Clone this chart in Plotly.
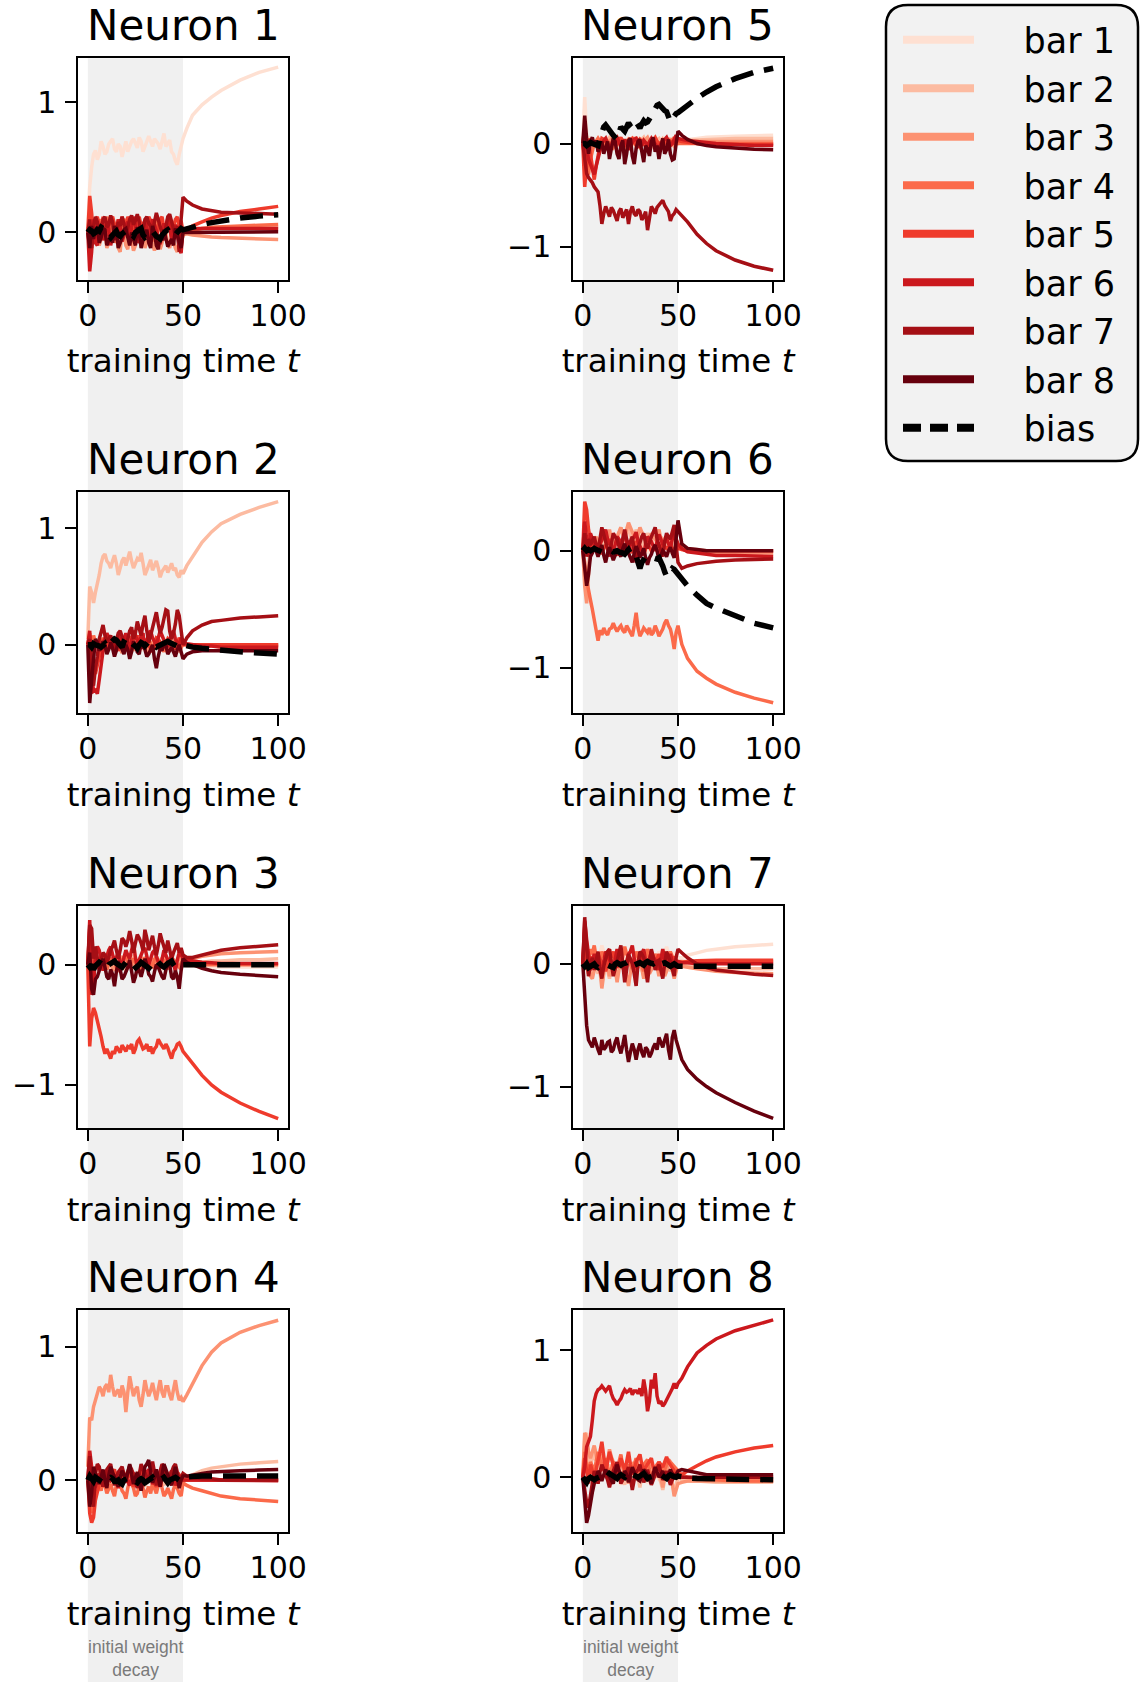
import plotly.graph_objects as go

# ---------------- data ----------------
T = [0, 1, 2, 3, 4, 5, 6, 7, 8, 9, 10, 11, 12, 13, 14, 15, 16, 17, 18, 19, 20, 21, 22, 23, 24, 25,
     26, 27, 28, 29, 30, 31, 32, 33, 34, 35, 36, 37, 38, 39, 40, 41, 42, 43, 44, 45, 46, 47, 48, 49, 50,
     52, 55, 60, 65, 70, 80, 90, 100]

SERIES_NAMES = ["bar 1", "bar 2", "bar 3", "bar 4", "bar 5", "bar 6", "bar 7", "bar 8", "bias"]
X_TICKS = [0, 50, 100]

# Neuron 1
n1_b1 = [0.05,0.35,0.5,0.6,0.63, 0.56,0.6, 0.7,0.66, 0.6,0.62, 0.68,0.7, 0.72,0.64, 0.62,0.68, 0.66,0.58, 0.64,0.7, 0.62,0.66, 0.7,0.72, 0.68,0.65, 0.73,0.7, 0.62,0.67, 0.7,0.74, 0.69,0.66, 0.72,0.7, 0.68,0.64, 0.7,0.76, 0.66,0.68, 0.71,0.62, 0.6,0.55, 0.52,0.6, 0.66,0.72,
         0.8,0.9,0.98,1.04,1.09,1.17,1.23,1.27]
n1_b2 = [0,0.08,-0.05,0.05,0.02, 0.06,-0.06, -0.03,0.04, 0.02,0.08, 0.05,-0.04, -0.02,0.06, 0.07,-0.02, -0.05,0.07, 0.04,0.0, 0.03,-0.08, -0.02,0.05, 0.07,0.02, 0.04,-0.05, -0.02,0.08, 0.06,0.03, 0.01,-0.06, -0.03,0.04, 0.0,0.07, 0.05,-0.03, -0.05,0.05, 0.03,-0.04, 0.0,0.06, 0.04,0.0, -0.03,0.02,
         0.02,0.02,0.03,0.03,0.03,0.03,0.04,0.04]
n1_b3 = [0,-0.1,0.05,-0.08,0.04, -0.04,-0.1, -0.05,0.02, 0.0,-0.12, -0.08,0.05, 0.0,-0.06, -0.02,-0.12, -0.15,0.03, -0.02,-0.1, -0.13,-0.02, -0.06,-0.14, -0.1,0.04, -0.04,-0.08, 0.0,-0.12, -0.07,0.02, -0.04,-0.1, -0.14,-0.05, -0.02,-0.13, -0.08,0.03, 0.0,-0.09, -0.12,-0.04, -0.07,-0.12, -0.15,-0.06, -0.1,-0.02,
         -0.01,-0.02,-0.03,-0.035,-0.04,-0.045,-0.05,-0.055]
n1_b4 = [0,0.15,-0.1,0.08,-0.05, 0.03,0.1, 0.06,-0.04, 0.02,0.12, 0.07,0.02, 0.04,-0.08, -0.03,0.1, 0.05,-0.02, 0.1,0.08, 0.02,-0.1, -0.04,0.06, 0.0,0.1, 0.07,-0.05, -0.02,0.03, 0.06,0.11, 0.04,-0.07, -0.02,0.05, 0.1,0.09, 0.04,-0.03, 0.02,0.08, 0.1,-0.06, -0.02,0.04, 0.0,0.09, 0.05,0.0,
         0.01,0.02,0.03,0.04,0.045,0.05,0.055,0.06]
n1_b5 = [0,0.28,0.15,-0.05,0.1, 0.12,0.05, 0.0,0.12, 0.08,-0.03, 0.04,0.1, 0.12,0.06, 0.02,-0.05, 0.06,0.12, 0.08,0.02, 0.12,0.09, 0.04,-0.04, 0.03,0.1, 0.12,0.05, 0.08,-0.02, 0.04,0.12, 0.09,0.04, 0.0,-0.06, 0.05,0.1, 0.12,0.03, 0.0,0.08, 0.11,-0.03, 0.04,0.1, 0.12,0.05, 0.09,0.0,
         0.02,0.05,0.08,0.11,0.13,0.16,0.18,0.2]
n1_b6 = [0,-0.3,-0.15,0.1,-0.08, -0.1,0.05, 0.02,-0.06, -0.02,0.08, 0.03,-0.1, -0.04,0.04, 0.0,0.1, 0.04,-0.07, -0.02,0.06, 0.08,-0.04, 0.04,0.12, 0.06,-0.08, -0.05,0.02, -0.03,0.09, 0.05,-0.06, 0.02,0.1, 0.06,0.0, -0.04,-0.09, -0.02,0.07, 0.03,0.11, 0.06,-0.05, -0.02,0.06, 0.0,-0.12, -0.16,0.02,
         0.02,0.03,0.03,0.03,0.03,0.03,0.03,0.03]
n1_b7 = [0,0.1,-0.12,0.05,0.12, 0.08,-0.05, 0.04,0.1, 0.12,0.04, 0.06,0.13, 0.08,-0.06, 0.0,0.08, 0.05,0.12, 0.06,-0.02, 0.04,0.1, 0.13,0.06, 0.09,0.14, 0.08,-0.04, 0.02,0.1, 0.12,0.07, 0.05,0.0, 0.08,0.15, 0.1,0.05, 0.0,-0.06, 0.04,0.12, 0.14,0.08, 0.03,-0.03, 0.05,-0.15, 0.1,0.27,
         0.24,0.21,0.18,0.165,0.155,0.15,0.145,0.14]
n1_b8 = [0,-0.12,0.05,-0.05,0.02, 0.04,-0.08, -0.04,0.03, 0.02,-0.1, -0.06,-0.02, -0.08,0.05, 0.0,-0.12, -0.08,-0.04, 0.02,0.03, -0.04,-0.1, 0.0,-0.06, -0.1,0.04, 0.0,-0.12, -0.06,-0.03, 0.02,-0.08, -0.12,0.05, 0.0,-0.1, -0.13,-0.02, -0.06,0.02, -0.04,-0.11, -0.08,-0.05, -0.1,0.03, -0.02,-0.08, -0.12,0.0,
         0.0,0.0,0.005,0.005,0.005,0.005,0.005,0.005]
n1_bias = [0,0.02,0.01,-0.01,0.0, 0.02,0.01, 0.04,0.03, 0.01,-0.01, -0.03,-0.04, -0.02,0.0, 0.01,-0.02, -0.03,-0.01, 0.0,0.02, 0.02,0.0, -0.02,-0.03, 0.0,0.01, 0.02,0.03, -0.02,-0.04, -0.03,-0.01, 0.0,0.01, -0.02,-0.03, -0.04,-0.05, -0.02,0.0, 0.01,0.02, 0.0,0.01, -0.01,-0.02, 0.0,0.01, 0.03,0.02,
           0.03,0.04,0.06,0.075,0.09,0.11,0.125,0.135]

# Neuron 2
n2_b1 = [0,0.05,-0.04,0.03,0.0, 0.02,-0.05, 0.0,0.04, 0.05,0.02, 0.0,-0.03, 0.02,0.05, 0.04,0.0, -0.02,-0.04, 0.0,0.03, 0.04,0.06, 0.02,-0.02, -0.03,0.01, 0.03,-0.05, -0.02,0.04, 0.05,0.0, -0.03,0.03, 0.01,-0.04, -0.02,0.02, 0.0,0.05, 0.02,-0.03, -0.04,0.01, 0.03,0.04, 0.0,-0.02, 0.02,0.0,
         -0.005,-0.01,-0.01,-0.015,-0.015,-0.02,-0.02,-0.02]
n2_b2 = [0.05,0.5,0.45,0.36,0.45, 0.52,0.6, 0.7,0.76, 0.78,0.72, 0.7,0.66, 0.72,0.77, 0.7,0.6, 0.66,0.72, 0.75,0.68, 0.74,0.8, 0.72,0.66, 0.7,0.74, 0.72,0.79, 0.7,0.6, 0.64,0.68, 0.73,0.64, 0.68,0.72, 0.66,0.58, 0.63,0.66, 0.68,0.62, 0.66,0.7, 0.64,0.66, 0.6,0.58, 0.64,0.61,
         0.68,0.76,0.88,0.97,1.04,1.12,1.18,1.23]
n2_b3 = [0,0.03,-0.08,0.05,-0.02, 0.0,0.04, -0.02,-0.06, 0.0,0.03, 0.04,0.07, 0.02,-0.04, -0.03,0.02, -0.03,-0.07, 0.0,0.05, 0.03,0.0, -0.02,-0.05, 0.0,0.06, 0.03,-0.02, 0.0,0.04, -0.02,-0.06, -0.01,0.02, 0.03,0.05, 0.0,-0.04, -0.02,0.03, -0.04,-0.07, 0.0,0.04, 0.02,0.0, -0.02,-0.05, -0.03,0.02,
         0.0,-0.01,-0.01,-0.01,-0.01,-0.01,-0.01,-0.01]
n2_b4 = [0,0.1,-0.05,0.08,0.02, 0.0,-0.04, 0.02,0.06, 0.03,-0.03, 0.0,0.05, 0.0,-0.06, -0.02,0.04, 0.05,0.02, 0.0,-0.05, 0.03,0.07, 0.04,0.0, 0.02,-0.04, 0.0,0.05, 0.03,-0.02, 0.02,0.06, 0.0,-0.05, -0.02,0.03, 0.04,0.0, -0.03,-0.06, 0.0,0.05, 0.02,-0.02, 0.0,0.04, 0.01,-0.03, -0.02,0.01,
         0,0,0,0,0,0,0,0]
n2_b5 = [0,0.08,-0.1,-0.2,-0.25, -0.18,-0.1, -0.02,0.05, 0.02,-0.03, 0.02,0.06, 0.04,0.0, -0.02,-0.05, 0.0,0.07, 0.05,0.02, 0.0,-0.04, 0.01,0.05, 0.06,0.08, 0.02,-0.02, 0.0,0.04, 0.03,0.0, -0.04,-0.06, 0.0,0.06, 0.05,0.03, 0.0,-0.03, 0.02,0.05, 0.03,0.0, -0.02,-0.04, 0.02,0.06, 0.03,0.0,
         0,0,0,0,0,0,0,0]
n2_b6 = [0,0.12,-0.25,-0.4,-0.39, -0.42,-0.3, -0.15,-0.05, 0.05,0.1, 0.06,0.02, 0.0,-0.06, 0.02,0.08, 0.04,0.0, 0.05,0.1, 0.02,-0.05, 0.04,0.12, 0.08,0.03, 0.0,0.08, 0.1,-0.04, 0.02,0.1, 0.12,0.06, 0.03,0.0, 0.06,0.12, 0.08,0.04, 0.0,-0.02, 0.04,0.1, 0.12,0.05, 0.02,0.0, 0.06,0.02,
         0.01,0.0,-0.01,-0.01,-0.02,-0.02,-0.02,-0.02]
n2_b7 = [0,0.05,-0.3,-0.35,-0.2, -0.1,0.05, 0.12,0.17, 0.08,0.02, 0.05,0.08, 0.02,-0.04, 0.04,0.1, 0.12,0.06, 0.02,-0.02, 0.06,0.12, 0.15,0.05, 0.1,0.2, 0.14,0.08, 0.18,0.25, 0.12,0.02, 0.08,0.15, 0.22,0.28, 0.18,0.1, 0.15,0.22, 0.3,0.29, 0.12,0.05, 0.1,0.18, 0.3,0.25, 0.12,0.0,
         0.06,0.12,0.17,0.2,0.21,0.23,0.24,0.25]
n2_b8 = [0,-0.5,-0.3,-0.1,0.05, 0.02,-0.05, -0.02,0.03, 0.0,-0.08, -0.04,0.02, -0.03,-0.1, -0.05,0.04, 0.0,-0.05, -0.08,0.0, -0.04,-0.12, -0.06,0.03, 0.0,-0.06, -0.08,0.02, -0.02,-0.04, -0.1,-0.08, -0.03,0.0, -0.12,-0.2, -0.1,-0.03, -0.05,0.02, 0.0,-0.08, -0.05,-0.02, -0.06,-0.1, -0.04,0.0, -0.06,-0.12,
         -0.08,-0.06,-0.05,-0.05,-0.05,-0.05,-0.05,-0.05]
n2_bias = [0,0.0,-0.02,0.01,0.0, 0.0,-0.01, -0.02,0.0, 0.01,-0.02, 0.0,0.02, 0.04,0.05, 0.04,0.02, 0.0,-0.02, 0.03,0.06, 0.05,0.03, 0.02,0.0, -0.01,-0.03, 0.0,0.02, 0.01,-0.01, 0.01,0.03, 0.02,0.01, 0.0,-0.02, -0.01,0.0, 0.01,0.02, 0.03,0.03, 0.02,0.01, 0.0,-0.01, -0.01,0.0, 0.01,0.0,
           -0.01,-0.02,-0.03,-0.04,-0.05,-0.06,-0.07,-0.08]

# Neuron 3
n3_b1 = [0,0.1,0.05,-0.03,0.02, 0.04,0.0, 0.02,0.04, 0.0,-0.02, 0.01,0.03, 0.04,0.06, 0.02,0.0, 0.01,-0.03, 0.02,0.05, 0.04,0.02, 0.0,-0.04, 0.0,0.03, 0.04,0.06, 0.02,0.0, 0.01,-0.02, 0.02,0.04, 0.03,0.01, 0.0,-0.03, 0.02,0.05, 0.03,0.0, 0.01,0.03, 0.0,-0.02, 0.02,0.04, 0.02,0.0,
         -0.01,-0.01,-0.02,-0.02,-0.02,-0.02,-0.02,-0.02]
n3_b2 = [0,0.2,0.15,0.05,0.0, 0.02,-0.03, 0.0,0.05, 0.04,0.02, 0.0,-0.04, 0.02,0.06, 0.05,0.03, 0.01,0.0, -0.02,-0.05, 0.0,0.04, 0.06,0.07, 0.02,-0.02, 0.0,0.03, 0.04,0.05, 0.01,-0.03, 0.0,0.02, 0.04,0.06, 0.03,0.0, -0.02,-0.04, 0.02,0.05, 0.04,0.02, 0.0,-0.01, 0.02,0.04, 0.02,0.0,
         0.01,0.02,0.02,0.03,0.03,0.04,0.04,0.05]
n3_b3 = [0,0.25,-0.15,-0.1,0.05, 0.06,0.02, 0.0,-0.03, 0.02,0.05, 0.03,0.0, -0.02,-0.05, 0.0,0.03, 0.05,0.07, 0.02,-0.02, 0.0,0.04, 0.02,0.0, -0.02,-0.04, 0.02,0.06, 0.04,0.02, 0.0,-0.03, 0.02,0.05, 0.02,-0.01, 0.02,0.04, 0.05,0.07, 0.02,-0.02, 0.0,0.03, 0.02,0.0, 0.03,0.05, 0.04,0.02,
         0.03,0.05,0.07,0.08,0.09,0.1,0.105,0.11]
n3_b4 = [0,0.3,0.1,-0.05,0.08, 0.04,0.0, 0.03,0.06, 0.0,-0.04, 0.02,0.05, 0.04,0.02, -0.02,-0.06, 0.0,0.04, 0.06,0.08, 0.02,-0.02, 0.02,0.05, 0.02,0.0, -0.02,-0.05, 0.02,0.06, 0.04,0.03, 0.0,-0.03, 0.04,0.07, 0.03,0.0, 0.02,0.04, 0.0,-0.04, 0.03,0.06, 0.04,0.02, 0.0,-0.02, 0.01,0.0,
         0,0,0,0,0,0,0,0]
n3_b5 = [0,-0.68,-0.45,-0.36,-0.4, -0.46,-0.53, -0.6,-0.68, -0.74,-0.7, -0.75,-0.78, -0.72,-0.74, -0.68,-0.7, -0.73,-0.67, -0.7,-0.72, -0.68,-0.69, -0.66,-0.74, -0.7,-0.64, -0.62,-0.66, -0.7,-0.69, -0.66,-0.72, -0.68,-0.74, -0.7,-0.68, -0.62,-0.65, -0.68,-0.7, -0.66,-0.69, -0.74,-0.78, -0.72,-0.7, -0.66,-0.65, -0.68,-0.72,
         -0.76,-0.82,-0.92,-1.0,-1.06,-1.15,-1.22,-1.28]
n3_b6 = [0,0.37,-0.25,-0.2,0.1, 0.15,0.12, 0.02,-0.05, 0.02,0.08, 0.12,0.15, 0.08,0.02, 0.06,0.1, 0.02,-0.04, 0.06,0.12, 0.08,0.05, 0.12,0.18, 0.06,-0.02, 0.04,0.08, 0.12,0.14, 0.06,0.0, 0.05,0.1, 0.12,0.06, 0.02,-0.03, 0.06,0.12, 0.08,0.04, 0.02,0.08, 0.0,-0.05, 0.04,0.1, 0.08,0.05,
         0.04,0.03,0.02,0.015,0.01,0.01,0.01,0.01]
n3_b7 = [0,0.33,0.3,0.05,0.15, 0.05,-0.05, 0.04,0.1, 0.08,0.02, 0.06,0.12, 0.15,0.2, 0.12,0.05, 0.12,0.22, 0.2,0.15, 0.2,0.28, 0.2,0.1, 0.18,0.25, 0.22,0.18, 0.12,0.29, 0.22,0.12, 0.18,0.24, 0.15,0.08, 0.16,0.26, 0.2,0.15, 0.1,0.2, 0.12,0.05, 0.1,0.15, 0.18,0.1, 0.14,0.08,
         0.06,0.06,0.08,0.1,0.12,0.14,0.155,0.165]
n3_b8 = [0,0.1,-0.2,-0.25,-0.12, -0.1,-0.05, 0.0,0.05, -0.02,-0.1, -0.12,-0.04, -0.08,-0.18, -0.06,0.03, -0.04,-0.12, -0.1,-0.06, -0.02,0.04, -0.06,-0.15, -0.1,-0.02, -0.05,-0.1, -0.04,0.05, 0.0,-0.08, -0.1,-0.14, -0.06,0.0, -0.02,-0.06, -0.1,-0.12, -0.04,0.03, 0.0,-0.1, -0.12,-0.05, -0.1,-0.2, -0.05,0.05,
         0.02,0.0,-0.03,-0.05,-0.065,-0.08,-0.09,-0.1]
n3_bias = [0,-0.02,0.0,-0.04,-0.01, 0.0,0.02, 0.01,0.0, -0.02,-0.03, 0.0,0.01, 0.02,0.03, 0.01,0.0, -0.01,-0.02, 0.0,0.02, 0.01,0.0, -0.02,-0.04, -0.03,-0.01, 0.0,0.02, 0.01,0.0, -0.01,-0.03, -0.01,0.01, 0.02,0.04, 0.02,0.0, -0.01,-0.02, 0.0,0.01, 0.02,0.03, 0.0,-0.02, -0.01,0.0, 0.01,0.0,
           0,0,0,0,0,0,0,0]

# Neuron 4
n4_b1 = [0,0.05,-0.03,0.02,0.04, 0.02,0.0, -0.02,-0.04, 0.0,0.03, 0.05,0.06, 0.02,-0.02, 0.0,0.02, -0.02,-0.05, 0.0,0.04, 0.02,0.0, 0.03,0.05, 0.01,-0.03, 0.0,0.02, 0.04,0.06, 0.02,-0.01, 0.01,0.03, 0.0,-0.04, 0.02,0.05, 0.02,0.0, 0.01,0.02, 0.0,-0.03, 0.02,0.04, 0.03,0.01, 0.0,0.0,
         0,0,0,0,0,0,0,0]
n4_b2 = [0,0.15,0.1,-0.05,0.03, 0.08,0.06, 0.02,-0.02, 0.0,0.04, 0.0,-0.05, 0.02,0.05, 0.04,0.02, 0.0,-0.03, 0.02,0.06, 0.03,0.0, -0.02,-0.04, 0.02,0.05, 0.04,0.02, 0.0,-0.05, 0.0,0.04, 0.06,0.07, 0.02,-0.02, 0.0,0.03, 0.0,-0.04, 0.02,0.05, 0.03,0.0, 0.01,0.03, 0.0,-0.03, -0.01,0.0,
         0.02,0.04,0.07,0.09,0.1,0.12,0.13,0.14]
n4_b3 = [0.1,0.47,0.45,0.55,0.6, 0.66,0.7, 0.68,0.63, 0.7,0.72, 0.66,0.79, 0.7,0.63, 0.66,0.68, 0.62,0.71, 0.66,0.51, 0.66,0.78, 0.7,0.63, 0.68,0.7, 0.6,0.55, 0.64,0.75, 0.68,0.63, 0.67,0.73, 0.66,0.6, 0.68,0.75, 0.66,0.62, 0.7,0.7, 0.64,0.6, 0.68,0.75, 0.66,0.6, 0.62,0.59,
         0.64,0.72,0.86,0.96,1.03,1.11,1.16,1.2]
n4_b4 = [0,-0.15,-0.25,-0.1,0.05, 0.0,-0.05, -0.08,0.0, -0.04,-0.1, -0.06,-0.03, -0.08,-0.12, -0.04,0.02, -0.03,-0.08, -0.1,-0.14, -0.06,0.0, -0.03,-0.06, -0.12,-0.1, -0.04,0.03, -0.06,-0.13, -0.08,-0.05, -0.1,-0.02, -0.06,-0.1, -0.04,0.01, -0.06,-0.12, -0.1,-0.06, -0.1,-0.14, -0.07,-0.03, -0.06,-0.1, -0.12,-0.02,
         -0.04,-0.06,-0.08,-0.1,-0.12,-0.14,-0.15,-0.16]
n4_b5 = [0,-0.25,-0.32,-0.28,-0.15, -0.08,-0.03, 0.02,0.05, 0.02,-0.02, 0.0,0.04, 0.06,0.08, 0.02,-0.04, 0.0,0.05, 0.03,0.0, 0.02,0.06, 0.02,-0.05, -0.02,0.03, 0.05,0.08, 0.03,-0.02, 0.0,0.04, 0.03,0.0, -0.02,-0.05, 0.0,0.06, 0.04,0.02, 0.0,-0.03, 0.02,0.05, 0.03,0.0, 0.02,0.04, 0.02,0.0,
         0,0,0,0,0,0,0,0]
n4_b6 = [0,0.22,0.1,-0.1,-0.05, 0.0,0.05, 0.02,-0.05, 0.0,0.06, 0.03,0.0, 0.02,0.04, 0.0,-0.06, 0.02,0.08, 0.05,0.02, 0.0,-0.04, 0.02,0.05, 0.03,0.0, -0.03,-0.07, 0.0,0.04, 0.06,0.08, 0.02,-0.03, 0.0,0.03, 0.0,-0.05, 0.02,0.06, 0.03,0.0, 0.04,0.07, 0.02,-0.04, 0.0,0.02, 0.01,0.0,
         0.0,0.0,-0.005,-0.005,-0.005,-0.005,-0.005,-0.005]
n4_b7 = [0,0.18,-0.1,-0.2,0.05, 0.12,0.1, 0.02,-0.05, 0.02,0.08, 0.1,0.12, 0.04,-0.04, 0.02,0.06, 0.08,0.1, 0.04,-0.02, 0.06,0.11, 0.08,0.03, 0.0,-0.06, 0.04,0.12, 0.08,0.05, 0.02,0.0, 0.06,0.14, 0.06,-0.04, 0.02,0.08, 0.12,0.1, 0.04,-0.02, 0.02,0.06, 0.1,0.12, 0.05,0.0, 0.02,0.05,
         0.03,0.02,0.01,0.01,0.0,0.0,0.0,0.0]
n4_b8 = [0,-0.2,-0.1,0.1,0.05, 0.02,-0.03, 0.02,0.08, 0.0,-0.06, 0.04,0.1, 0.06,0.02, 0.0,-0.05, 0.02,0.07, 0.04,0.0, 0.06,0.12, 0.04,-0.03, 0.02,0.06, 0.0,-0.08, 0.02,0.1, 0.12,0.15, 0.06,-0.02, 0.02,0.08, 0.02,-0.05, 0.04,0.12, 0.08,0.03, 0.0,-0.04, 0.04,0.1, 0.02,-0.06, 0.0,0.03,
         0.03,0.04,0.05,0.06,0.065,0.07,0.075,0.08]
n4_bias = [0,0.03,0.01,-0.01,0.02, 0.01,0.0, -0.01,-0.02, 0.0,0.01, 0.02,0.02, 0.01,-0.01, -0.01,0.0, -0.02,-0.03, 0.0,0.01, 0.02,0.02, 0.01,0.0, -0.01,-0.02, 0.0,0.01, 0.0,-0.02, -0.01,0.0, 0.01,0.02, 0.0,-0.01, 0.0,0.0, 0.01,0.02, 0.0,-0.02, 0.0,0.01, 0.01,0.02, 0.01,0.0, 0.01,0.02,
           0.025,0.03,0.03,0.03,0.03,0.03,0.03,0.03]

# Neuron 5
n5_b1 = [0,0.45,0.1,-0.05,0.05, 0.04,0.02, 0.0,-0.03, 0.02,0.04, 0.02,0.0, -0.02,-0.05, 0.0,0.03, 0.04,0.06, 0.02,0.0, -0.02,-0.04, 0.02,0.05, 0.04,0.02, 0.0,-0.03, 0.02,0.06, 0.03,0.0, 0.02,0.03, 0.0,-0.05, 0.02,0.04, 0.02,0.0, 0.03,0.05, 0.01,-0.02, 0.0,0.03, 0.02,0.0, 0.04,0.02,
         0.03,0.04,0.05,0.06,0.065,0.07,0.075,0.08]
n5_b2 = [0,0.2,0.05,-0.1,0.03, 0.02,0.0, 0.02,0.05, 0.0,-0.04, 0.0,0.03, 0.04,0.06, 0.02,-0.02, 0.0,0.04, 0.02,0.0, -0.02,-0.05, 0.0,0.03, 0.02,0.05, 0.0,-0.03, 0.0,0.02, 0.04,0.06, 0.02,0.0, -0.02,-0.04, 0.0,0.03, 0.04,0.05, 0.0,-0.02, 0.02,0.04, 0.02,0.0, -0.01,-0.03, 0.0,0.02,
         0.02,0.03,0.035,0.04,0.045,0.05,0.05,0.05]
n5_b3 = [0,0.1,-0.2,-0.1,0.05, 0.0,-0.03, 0.02,0.04, 0.02,0.0, -0.02,-0.05, 0.0,0.03, 0.04,0.07, 0.02,-0.02, 0.0,0.04, 0.0,-0.06, -0.02,0.02, 0.03,0.05, 0.02,0.0, -0.02,-0.04, 0.0,0.03, 0.04,0.06, 0.02,-0.03, 0.0,0.02, -0.02,-0.05, 0.0,0.04, 0.02,0.0, 0.02,0.05, 0.01,-0.02, 0.0,0.0,
         0.01,0.015,0.02,0.02,0.02,0.02,0.02,0.02]
n5_b4 = [0,0.05,-0.25,-0.3,-0.15, -0.06,0.0, 0.02,0.05, 0.02,-0.02, 0.0,0.04, 0.02,0.0, -0.02,-0.04, 0.0,0.05, 0.04,0.02, 0.0,-0.03, 0.02,0.04, 0.02,0.0, 0.03,0.06, 0.02,-0.02, 0.0,0.03, 0.0,-0.05, -0.02,0.02, 0.03,0.05, 0.02,0.0, -0.01,-0.03, 0.0,0.04, 0.03,0.01, 0.03,0.06, 0.02,0.0,
         0,0,0,0,0,0,0,0]
n5_b5 = [0,-0.42,-0.2,0.05,-0.1, -0.25,-0.35, -0.22,-0.1, -0.02,0.05, 0.04,0.02, 0.0,-0.04, 0.0,0.04, 0.02,0.0, 0.03,0.06, 0.02,-0.03, 0.0,0.03, 0.04,0.05, 0.02,-0.02, 0.01,0.04, 0.02,0.0, -0.02,-0.05, 0.0,0.03, 0.04,0.06, 0.02,0.0, -0.01,-0.03, 0.02,0.05, 0.03,0.02, 0.0,0.0, 0.02,0.03,
         0.02,0.01,0.0,-0.005,-0.01,-0.01,-0.01,-0.01]
n5_b6 = [0,0.15,-0.05,-0.15,-0.2, -0.26,-0.3, -0.22,-0.15, -0.06,0.0, 0.03,0.05, 0.0,-0.05, -0.02,0.02, 0.04,0.06, 0.02,-0.03, 0.0,0.04, 0.0,-0.06, -0.02,0.02, 0.04,0.05, 0.0,-0.04, -0.01,0.03, 0.01,-0.02, 0.02,0.05, 0.02,0.0, -0.02,-0.05, 0.0,0.03, 0.04,0.06, 0.02,-0.02, 0.0,0.04, 0.08,0.05,
         0.04,0.03,0.02,0.01,0.0,-0.01,-0.02,-0.02]
n5_b7 = [0,-0.15,-0.29,-0.33,-0.35, -0.38,-0.42, -0.45,-0.47, -0.6,-0.78, -0.68,-0.61, -0.66,-0.71, -0.62,-0.65, -0.7,-0.75, -0.66,-0.63, -0.72,-0.68, -0.64,-0.78, -0.66,-0.61, -0.68,-0.7, -0.64,-0.66, -0.74,-0.71, -0.66,-0.84, -0.7,-0.61, -0.64,-0.68, -0.62,-0.6, -0.58,-0.55, -0.6,-0.63, -0.66,-0.75, -0.7,-0.68, -0.64,-0.66,
         -0.7,-0.76,-0.88,-0.97,-1.04,-1.13,-1.19,-1.23]
n5_b8 = [0,0.27,0.05,-0.1,0.02, 0.06,-0.02, 0.03,-0.08, -0.04,0.02, -0.1,-0.05, 0.02,-0.15, -0.05,0.05, 0.02,-0.1, -0.15,-0.02, 0.03,-0.2, -0.1,0.03, 0.05,-0.12, -0.2,-0.05, 0.02,0.04, -0.08,-0.18, -0.02,-0.05, -0.12,0.02, 0.06,-0.08, -0.02,-0.15, -0.04,0.05, -0.1,-0.06, 0.04,-0.1, -0.16,-0.15, 0.0,0.12,
         0.08,0.04,0.0,-0.02,-0.03,-0.045,-0.055,-0.06]
n5_bias = [0,0.0,-0.02,0.0,0.01, 0.0,-0.01, -0.02,-0.02, 0.05,0.12, 0.16,0.18, 0.15,0.13, 0.1,0.08, 0.06,0.04, 0.1,0.16, 0.14,0.12, 0.16,0.2, 0.17,0.15, 0.18,0.21, 0.18,0.15, 0.19,0.22, 0.2,0.21, 0.24,0.28, 0.32,0.35, 0.37,0.38, 0.36,0.33, 0.32,0.31, 0.26,0.21, 0.24,0.28, 0.29,0.3,
           0.33,0.37,0.44,0.5,0.55,0.63,0.69,0.73]

# Neuron 6
n6_b1 = [0,0.1,0.05,-0.03,0.02, 0.04,0.05, 0.02,-0.02, 0.0,0.04, 0.06,0.08, 0.04,0.0, 0.03,0.06, 0.02,-0.03, 0.02,0.05, 0.08,0.1, 0.05,0.02, 0.04,0.07, 0.03,0.0, 0.02,0.05, 0.07,0.09, 0.03,-0.02, 0.0,0.04, 0.06,0.06, 0.02,0.0, 0.03,0.05, 0.06,0.08, 0.03,-0.01, 0.0,0.03, 0.04,0.02,
         0.01,0,0,0,0,0,0,0]
n6_b2 = [0,-0.2,-0.35,-0.15,0.0, 0.03,0.05, 0.08,0.1, 0.05,0.02, 0.08,0.12, 0.1,0.06, 0.1,0.15, 0.12,0.08, 0.15,0.2, 0.14,0.1, 0.16,0.22, 0.12,0.05, 0.1,0.18, 0.15,0.12, 0.06,0.02, 0.08,0.15, 0.12,0.08, 0.1,0.12, 0.05,0.0, 0.06,0.1, 0.08,0.05, 0.1,0.13, 0.08,0.04, 0.06,0.05,
         0.03,0.02,0.01,0,0,0,0,0]
n6_b3 = [0,-0.3,-0.45,-0.2,0.05, 0.08,0.1, 0.12,0.05, 0.1,0.15, 0.12,0.08, 0.12,0.18, 0.1,0.05, 0.08,0.12, 0.16,0.2, 0.14,0.1, 0.18,0.24, 0.2,0.15, 0.12,0.08, 0.15,0.2, 0.16,0.12, 0.08,0.05, 0.1,0.15, 0.12,0.1, 0.14,0.18, 0.1,0.06, 0.1,0.12, 0.1,0.08, 0.12,0.15, 0.1,0.05,
         0.03,0.01,-0.01,-0.02,-0.02,-0.02,-0.02,-0.02]
n6_b4 = [0,-0.1,-0.25,-0.35,-0.42, -0.5,-0.59, -0.7,-0.77, -0.68,-0.72, -0.66,-0.7, -0.72,-0.67, -0.66,-0.62, -0.66,-0.69, -0.66,-0.64, -0.68,-0.7, -0.64,-0.67, -0.7,-0.73, -0.64,-0.53, -0.66,-0.73, -0.7,-0.66, -0.68,-0.7, -0.66,-0.72, -0.7,-0.64, -0.68,-0.73, -0.7,-0.67, -0.62,-0.59, -0.64,-0.67, -0.74,-0.84, -0.7,-0.64,
         -0.8,-0.92,-1.03,-1.09,-1.14,-1.21,-1.26,-1.3]
n6_b5 = [0,0.42,0.35,0.18,0.1, 0.04,0.0, 0.03,0.06, 0.02,-0.03, 0.02,0.05, 0.08,0.1, 0.05,0.02, 0.0,-0.04, 0.02,0.07, 0.03,0.0, 0.02,0.05, 0.02,-0.02, 0.04,0.08, 0.05,0.03, 0.0,-0.03, 0.02,0.06, 0.03,0.0, 0.02,0.04, 0.0,-0.02, 0.03,0.07, 0.04,0.02, 0.03,0.05, 0.02,0.0, 0.01,0.02,
         0.01,0,0,0,0,0,0,0]
n6_b6 = [0,0.25,0.1,-0.05,0.15, 0.1,0.05, 0.0,-0.03, 0.05,0.1, 0.14,0.18, 0.1,0.05, 0.02,-0.02, 0.06,0.12, 0.1,0.06, 0.1,0.15, 0.06,0.0, 0.05,0.1, 0.12,0.16, 0.08,0.04, 0.0,-0.04, 0.06,0.12, 0.1,0.08, 0.04,0.0, 0.08,0.14, 0.1,0.05, 0.08,0.1, 0.06,0.02, 0.1,0.15, 0.1,0.06,
         0.02,-0.01,-0.02,-0.03,-0.04,-0.04,-0.045,-0.05]
n6_b7 = [0,0.15,-0.05,0.1,0.05, 0.08,0.12, 0.05,0.0, 0.1,0.2, 0.14,0.08, 0.02,-0.05, 0.06,0.15, 0.12,0.1, 0.04,0.0, 0.1,0.18, 0.1,0.05, 0.08,0.12, 0.0,-0.1, 0.02,0.08, 0.12,0.15, 0.06,0.02, 0.08,0.12, 0.16,0.2, 0.1,0.05, 0.0,-0.05, 0.08,0.15, 0.12,0.1, 0.16,0.22, 0.05,-0.1,
         -0.15,-0.13,-0.11,-0.1,-0.09,-0.08,-0.075,-0.07]
n6_b8 = [0,-0.15,-0.3,-0.2,-0.05, -0.02,0.02, 0.0,-0.05, 0.0,0.05, -0.04,-0.1, -0.02,0.03, -0.03,-0.08, -0.04,0.0, -0.02,-0.05, 0.02,0.06, 0.0,-0.02, -0.06,-0.1, -0.02,0.04, 0.0,-0.06, -0.02,0.02, -0.06,-0.12, -0.06,-0.03, 0.02,0.05, 0.0,-0.08, -0.04,0.0, -0.02,-0.05, 0.0,0.03, -0.02,-0.06, 0.1,0.26,
         0.06,0.02,0.01,0,0,0,0,0]
n6_bias = [0,0.02,0.0,0.01,0.0, 0.01,0.02, 0.01,0.0, 0.0,-0.01, 0.0,0.0, 0.01,0.01, 0.0,-0.01, 0.0,0.0, -0.01,-0.01, -0.02,-0.03, -0.01,0.01, -0.02,-0.05, -0.05,-0.04, -0.1,-0.15, -0.1,-0.06, -0.05,-0.05, -0.06,-0.06, -0.06,-0.07, -0.07,-0.06, -0.09,-0.13, -0.18,-0.22, -0.19,-0.16, -0.15,-0.16, -0.18,-0.2,
           -0.24,-0.3,-0.38,-0.45,-0.49,-0.56,-0.62,-0.66]

# Neuron 7
n7_b1 = [0,0.1,0.05,-0.02,0.04, 0.06,0.1, 0.06,0.02, 0.08,0.15, 0.1,0.05, 0.02,-0.03, 0.04,0.1, 0.07,0.04, 0.08,0.12, 0.06,0.0, 0.04,0.08, 0.1,0.14, 0.08,0.03, 0.06,0.1, 0.04,-0.02, 0.06,0.12, 0.08,0.06, 0.02,0.0, 0.06,0.1, 0.07,0.04, 0.09,0.14, 0.08,0.02, 0.05,0.08, 0.06,0.05,
         0.05,0.07,0.09,0.11,0.12,0.14,0.15,0.16]
n7_b2 = [0,0.2,0.1,-0.1,-0.05, 0.0,0.03, -0.02,-0.08, 0.0,0.06, 0.04,0.0, -0.05,-0.12, -0.02,0.05, 0.02,-0.04, 0.02,0.08, 0.0,-0.1, -0.04,0.02, 0.0,-0.06, 0.02,0.07, 0.04,0.0, -0.04,-0.1, 0.0,0.05, 0.02,-0.03, 0.02,0.06, 0.0,-0.08, -0.02,0.03, 0.04,0.0, -0.02,-0.06, 0.0,0.04, 0.02,0.0,
         -0.01,-0.02,-0.03,-0.03,-0.04,-0.04,-0.04,-0.04]
n7_b3 = [0,0.15,-0.05,0.05,-0.1, -0.12,-0.05, 0.02,0.1, -0.05,-0.2, -0.08,0.05, -0.02,-0.1, -0.06,0.03, -0.04,-0.15, -0.05,0.08, 0.0,-0.05, -0.1,-0.18, -0.05,0.04, 0.0,-0.08, -0.02,0.06, -0.04,-0.12, -0.06,0.0, -0.08,-0.05, 0.02,0.08, -0.02,-0.1, -0.04,0.02, -0.1,-0.06, 0.0,0.05, -0.05,-0.12, -0.06,0.0,
         -0.02,-0.03,-0.04,-0.05,-0.06,-0.07,-0.075,-0.08]
n7_b4 = [0,0.25,0.1,0.0,0.12, 0.08,0.15, 0.04,-0.05, 0.04,0.1, 0.06,0.02, 0.06,0.12, 0.02,-0.05, 0.02,0.08, 0.04,0.0, 0.06,0.14, 0.08,0.05, 0.0,-0.04, 0.04,0.1, 0.06,0.03, 0.0,-0.06, 0.05,0.12, 0.06,0.02, 0.04,0.08, 0.02,-0.03, 0.03,0.06, 0.02,0.0, 0.06,0.1, 0.06,0.04, 0.0,0.02,
         0.02,0.02,0.02,0.02,0.02,0.02,0.02,0.02]
n7_b5 = [0,0.3,0.05,-0.08,0.06, 0.02,-0.04, 0.02,0.08, 0.04,0.0, -0.02,-0.06, 0.0,0.05, 0.06,0.1, 0.03,-0.03, 0.0,0.04, -0.02,-0.08, 0.0,0.06, 0.04,0.02, 0.0,-0.05, 0.03,0.09, 0.04,0.0, -0.02,-0.06, 0.0,0.05, 0.02,0.0, 0.04,0.08, 0.02,-0.04, 0.0,0.03, 0.01,-0.02, 0.02,0.06, 0.03,0.0,
         0.01,0.02,0.025,0.03,0.03,0.03,0.03,0.03]
n7_b6 = [0,0.35,0.2,0.05,-0.05, 0.02,0.08, 0.04,0.0, -0.04,-0.08, 0.02,0.1, 0.07,0.04, 0.0,-0.05, 0.06,0.12, 0.06,0.02, -0.02,-0.06, 0.02,0.08, 0.1,0.15, 0.04,-0.03, 0.0,0.05, 0.08,0.12, 0.02,-0.08, 0.04,0.1, 0.06,0.03, 0.0,-0.05, 0.06,0.12, 0.04,0.0, 0.03,0.08, 0.02,-0.04, 0.0,0.02,
         0.01,0.01,0,0,0,0,0,0]
n7_b7 = [0,0.38,0.15,-0.1,0.0, 0.05,-0.05, 0.02,0.1, -0.05,-0.12, -0.02,0.05, 0.1,0.12, 0.0,-0.1, -0.04,0.02, 0.1,0.15, 0.0,-0.15, -0.05,0.08, 0.04,0.0, -0.08,-0.18, 0.0,0.1, 0.08,0.05, -0.05,-0.15, 0.0,0.12, 0.05,-0.05, 0.02,0.03, -0.05,-0.12, 0.0,0.1, 0.06,0.02, -0.04,-0.1, 0.05,0.12,
         0.09,0.05,0.0,-0.03,-0.05,-0.07,-0.085,-0.095]
n7_b8 = [0.0,-0.3,-0.5,-0.62,-0.65, -0.68,-0.6, -0.66,-0.7, -0.74,-0.62, -0.7,-0.68, -0.64,-0.63, -0.72,-0.7, -0.64,-0.6, -0.68,-0.73, -0.66,-0.58, -0.7,-0.8, -0.72,-0.65, -0.7,-0.78, -0.7,-0.65, -0.72,-0.76, -0.68,-0.7, -0.76,-0.73, -0.68,-0.65, -0.7,-0.6, -0.64,-0.68, -0.62,-0.57, -0.7,-0.78, -0.6,-0.54, -0.62,-0.68,
         -0.78,-0.86,-0.94,-1.0,-1.05,-1.13,-1.2,-1.26]
n7_bias = [0,-0.02,0.0,-0.03,-0.02, -0.01,0.0, -0.02,-0.03, -0.02,-0.01, 0.0,0.0, -0.01,-0.02, -0.02,-0.03, 0.0,0.01, 0.0,-0.01, 0.0,0.0, 0.01,0.02, 0.0,-0.02, -0.01,0.0, 0.0,0.01, 0.0,-0.01, 0.01,0.02, 0.01,0.0, 0.0,0.01, -0.01,-0.02, 0.0,0.01, 0.01,0.0, -0.01,-0.02, -0.01,0.0, -0.01,-0.02,
           -0.02,-0.02,-0.02,-0.02,-0.02,-0.02,-0.02,-0.02]

# Neuron 8
n8_b1 = [0,0.1,0.2,0.05,0.0, 0.02,0.03, 0.0,-0.05, 0.02,0.06, 0.03,0.0, -0.02,-0.04, 0.02,0.05, 0.04,0.02, -0.02,-0.06, 0.0,0.04, 0.02,0.0, 0.03,0.06, 0.02,-0.03, 0.0,0.02, 0.03,0.05, 0.0,-0.05, -0.02,0.0, 0.02,0.04, 0.0,-0.02, 0.02,0.05, 0.03,0.0, -0.02,-0.04, 0.0,0.03, 0.02,0.0,
         -0.01,-0.01,-0.02,-0.02,-0.02,-0.02,-0.02,-0.02]
n8_b2 = [0,0.3,0.35,0.15,0.1, 0.15,0.2, 0.12,0.05, 0.1,0.15, 0.06,0.0, 0.05,0.1, 0.02,-0.05, 0.03,0.08, 0.06,0.02, 0.0,-0.06, 0.04,0.1, 0.05,0.0, 0.02,0.05, 0.0,-0.08, 0.02,0.07, 0.05,0.02, 0.0,-0.05, 0.02,0.08, 0.04,0.0, -0.04,-0.1, 0.0,0.06, 0.04,0.02, -0.05,-0.12, -0.06,0.0,
         -0.02,-0.03,-0.03,-0.035,-0.04,-0.04,-0.04,-0.04]
n8_b3 = [0,0.35,0.3,0.2,0.15, 0.2,0.25, 0.18,0.1, 0.14,0.18, 0.1,0.05, 0.12,0.22, 0.16,0.12, 0.05,0.0, 0.08,0.15, 0.1,0.08, 0.02,-0.05, 0.05,0.12, 0.08,0.05, 0.08,0.1, 0.02,-0.03, 0.04,0.08, 0.1,0.12, 0.05,0.0, 0.03,0.06, 0.0,-0.08, 0.02,0.1, 0.06,0.02, -0.05,-0.15, -0.1,-0.05,
         -0.04,-0.03,-0.03,-0.03,-0.03,-0.03,-0.03,-0.03]
n8_b4 = [0,0.2,0.1,0.0,0.12, 0.08,0.05, 0.12,0.2, 0.14,0.08, 0.1,0.15, 0.08,0.02, 0.06,0.12, 0.1,0.06, 0.12,0.18, 0.08,0.0, 0.04,0.1, 0.08,0.05, 0.1,0.15, 0.08,0.02, 0.06,0.1, 0.12,0.14, 0.06,0.0, 0.04,0.08, 0.1,0.12, 0.08,0.04, 0.06,0.1, 0.14,0.12, 0.1,0.08, 0.06,0.05,
         0.02,0.0,-0.01,-0.02,-0.02,-0.03,-0.03,-0.03]
n8_b5 = [0,0.15,0.05,-0.05,0.1, 0.05,0.0, 0.06,0.12, 0.2,0.28, 0.15,0.05, 0.12,0.2, 0.15,0.1, 0.04,-0.02, 0.08,0.15, 0.1,0.06, 0.12,0.2, 0.1,0.02, 0.06,0.12, 0.15,0.18, 0.1,0.05, 0.08,0.1, 0.12,0.15, 0.08,0.04, 0.08,0.12, 0.1,0.08, 0.12,0.16, 0.12,0.1, 0.08,0.05, 0.02,0.0,
         0.02,0.05,0.09,0.13,0.16,0.2,0.23,0.25]
n8_b6 = [0,0.08,0.24,0.28,0.32, 0.45,0.6, 0.66,0.69, 0.7,0.72, 0.7,0.68, 0.7,0.72, 0.66,0.62, 0.6,0.57, 0.6,0.62, 0.66,0.69, 0.67,0.68, 0.7,0.65, 0.68,0.68, 0.66,0.7, 0.64,0.77, 0.68,0.52, 0.6,0.77, 0.7,0.82, 0.64,0.58, 0.6,0.56, 0.58,0.61, 0.64,0.66, 0.7,0.74, 0.7,0.74,
         0.78,0.87,0.98,1.04,1.09,1.155,1.2,1.24]
n8_b7 = [0,-0.1,-0.2,-0.24,-0.15, -0.05,0.05, 0.0,-0.05, 0.04,0.1, 0.06,0.02, -0.02,-0.08, 0.0,0.05, 0.08,0.12, 0.04,-0.05, -0.02,0.0, 0.04,0.08, 0.0,-0.1, -0.02,0.04, 0.06,0.1, 0.02,-0.04, 0.0,0.06, 0.0,-0.06, -0.02,0.03, 0.06,0.1, 0.04,-0.02, 0.0,0.05, 0.0,-0.06, -0.02,0.02, 0.01,0.0,
         0,0,0,0,0,0,0,0]
n8_b8 = [0,-0.2,-0.36,-0.3,-0.2, -0.12,-0.05, 0.0,0.05, 0.02,-0.03, 0.02,0.06, 0.03,0.0, -0.02,-0.05, 0.04,0.1, 0.05,0.02, 0.0,0.05, 0.02,-0.04, 0.03,0.08, 0.04,0.0, -0.02,-0.03, 0.02,0.06, 0.04,0.02, -0.02,-0.05, 0.03,0.08, 0.04,0.0, 0.02,0.05, 0.0,-0.02, 0.02,0.06, 0.03,0.0, 0.02,0.05,
         0.06,0.05,0.03,0.02,0.02,0.02,0.02,0.02]
n8_bias = [0,-0.03,-0.04,-0.01,0.0, -0.01,-0.02, -0.01,0.0, 0.0,0.01, 0.0,-0.01, 0.01,0.03, 0.02,0.01, 0.0,-0.01, 0.01,0.02, 0.01,0.0, 0.02,0.04, 0.03,0.02, 0.01,0.0, 0.0,0.01, 0.02,0.03, 0.01,-0.01, 0.0,0.0, 0.01,0.02, 0.02,0.03, 0.02,0.01, 0.0,-0.01, 0.01,0.02, 0.01,0.0, 0.0,0.01,
           0.0,-0.005,-0.01,-0.01,-0.015,-0.02,-0.02,-0.02]

# per-neuron y axis ranges and ticks
Y_RANGES = {1: [-0.362, 1.338], 2: [-0.588, 1.31], 3: [-1.36, 0.486], 4: [-0.392, 1.275],
            5: [-1.319, 0.827], 6: [-1.39, 0.50], 7: [-1.34, 0.47], 8: [-0.434, 1.316]}
Y_TICKS_POS = [0, 1]
Y_TICKS_NEG = [-1, 0]

NEURONS = {
    1: [n1_b1, n1_b2, n1_b3, n1_b4, n1_b5, n1_b6, n1_b7, n1_b8, n1_bias],
    2: [n2_b1, n2_b2, n2_b3, n2_b4, n2_b5, n2_b6, n2_b7, n2_b8, n2_bias],
    3: [n3_b1, n3_b2, n3_b3, n3_b4, n3_b5, n3_b6, n3_b7, n3_b8, n3_bias],
    4: [n4_b1, n4_b2, n4_b3, n4_b4, n4_b5, n4_b6, n4_b7, n4_b8, n4_bias],
    5: [n5_b1, n5_b2, n5_b3, n5_b4, n5_b5, n5_b6, n5_b7, n5_b8, n5_bias],
    6: [n6_b1, n6_b2, n6_b3, n6_b4, n6_b5, n6_b6, n6_b7, n6_b8, n6_bias],
    7: [n7_b1, n7_b2, n7_b3, n7_b4, n7_b5, n7_b6, n7_b7, n7_b8, n7_bias],
    8: [n8_b1, n8_b2, n8_b3, n8_b4, n8_b5, n8_b6, n8_b7, n8_b8, n8_bias],
}
BAND = [0, 50]

# ---------------- styles ----------------
COLORS = ["#fee0d2", "#fcbba1", "#fc9272", "#fb6a4a", "#ef3b2c", "#cb181d", "#a50f15", "#67000d"]
FONT = "DejaVu Sans"
W, H = 1140, 1682


def X(p):
    return p / W


def Y(p):
    return 1 - p / H


COL_PX = [(78.3, 287.7), (573.3, 782.7)]
ROW_PX = [(58.3, 279.5), (492.3, 713.3), (906.2, 1128.3), (1310.3, 1532.3)]

fig = go.Figure()
layout = dict(
    width=W, height=H, autosize=False,
    margin=dict(l=0, r=0, t=0, b=0, pad=0),
    paper_bgcolor="white", plot_bgcolor="rgba(0,0,0,0)",
    font=dict(family=FONT, color="black"),
    showlegend=True,
)

annotations = []
for k in range(1, 9):
    col = (k - 1) // 4
    row = (k - 1) % 4
    xa = "x" if k == 1 else f"x{k}"
    ya = "y" if k == 1 else f"y{k}"
    series = NEURONS[k]
    for j in range(9):
        if j < 8:
            line = dict(color=COLORS[j], width=3.5)
        else:
            line = dict(color="black", width=5.5, dash="23px,11px")
        fig.add_trace(go.Scatter(x=T, y=series[j], mode="lines", line=line,
                                 xaxis=xa, yaxis=ya, showlegend=False, hoverinfo="skip"))
    yr = Y_RANGES[k]
    ytv = Y_TICKS_POS if yr[1] > 1 else Y_TICKS_NEG
    ytt = [("\u2212" + str(-v)) if v < 0 else str(v) for v in ytv]
    common = dict(showline=True, linecolor="black", linewidth=2, mirror=True,
                  ticks="outside", ticklen=11, tickwidth=2, tickcolor="black",
                  showgrid=False, zeroline=False, fixedrange=True)
    c0, c1 = COL_PX[col]
    r0, r1 = ROW_PX[row]
    layout["xaxis" if k == 1 else f"xaxis{k}"] = dict(
        domain=[X(c0), X(c1)], range=[-5, 105], anchor=ya,
        tickvals=X_TICKS, ticktext=[str(v) for v in X_TICKS],
        tickfont=dict(size=30, family=FONT), ticklabelstandoff=-3,
        title=dict(text="training time <i>t</i>", font=dict(size=32.5, family=FONT), standoff=18),
        automargin=False, **common)
    layout["yaxis" if k == 1 else f"yaxis{k}"] = dict(
        domain=[Y(r1), Y(r0)], range=yr, anchor=xa,
        tickvals=ytv, ticktext=ytt,
        tickfont=dict(size=30, family=FONT), ticklabelstandoff=3,
        automargin=False, **common)
    annotations.append(dict(text=f"Neuron {k}", xref=f"{xa} domain", yref=f"{ya} domain",
                            x=0.5, y=1, xanchor="center", yanchor="bottom", yshift=6,
                            showarrow=False, font=dict(size=42, family=FONT, color="black")))

# band labels
for xa in ["x4", "x8"]:
    annotations.append(dict(text="initial weight<br>decay", xref=xa, yref="paper",
                            x=(BAND[0] + BAND[1]) / 2, y=0, xanchor="center", yanchor="bottom",
                            showarrow=False, font=dict(size=17.5, family="Liberation Sans", color="#7a7a7a")))

shapes = []
for xa in ["x", "x5"]:
    shapes.append(dict(type="rect", xref=xa, yref="paper", x0=BAND[0], x1=BAND[1],
                       y0=0, y1=Y(58.3), fillcolor="#f0f0f0", line=dict(width=0), layer="below"))

# legend frame (rounded)
lx0, ly0, lx1, ly1, r = 886, 5, 1138, 461, 22
path = (f"M {X(lx0 + r)},{Y(ly0)} L {X(lx1 - r)},{Y(ly0)} Q {X(lx1)},{Y(ly0)} {X(lx1)},{Y(ly0 + r)} "
        f"L {X(lx1)},{Y(ly1 - r)} Q {X(lx1)},{Y(ly1)} {X(lx1 - r)},{Y(ly1)} "
        f"L {X(lx0 + r)},{Y(ly1)} Q {X(lx0)},{Y(ly1)} {X(lx0)},{Y(ly1 - r)} "
        f"L {X(lx0)},{Y(ly0 + r)} Q {X(lx0)},{Y(ly0)} {X(lx0 + r)},{Y(ly0)} Z")
shapes.append(dict(type="path", path=path, xref="paper", yref="paper",
                   fillcolor="#f2f2f2", line=dict(color="black", width=2.5), layer="below"))

# legend entries
for j, name in enumerate(SERIES_NAMES):
    if j < 8:
        line = dict(color=COLORS[j], width=8)
    else:
        line = dict(color="black", width=8, dash="18px,9px")
    fig.add_trace(go.Scatter(x=[None], y=[None], mode="lines", line=line,
                             name="\u00a0\u00a0\u00a0\u00a0" + name, showlegend=True,
                             xaxis="x", yaxis="y", hoverinfo="skip"))

layout["annotations"] = annotations
layout["shapes"] = shapes
layout["legend"] = dict(x=X(898), y=Y(10.5), xanchor="left", yanchor="top",
                        bgcolor="rgba(0,0,0,0)", borderwidth=0,
                        font=dict(size=35, family=FONT, color="black"),
                        itemwidth=71, traceorder="normal")
fig.update_layout(**layout)
fig.write_html("out.html")
